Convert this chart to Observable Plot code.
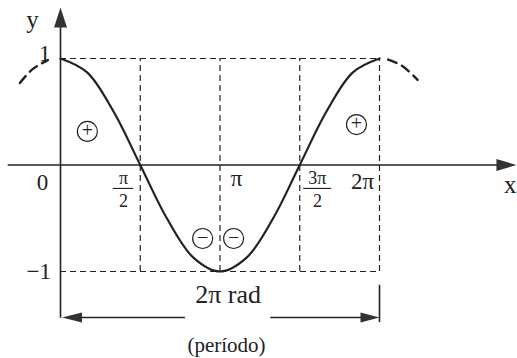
<!DOCTYPE html>
<html>
<head>
<meta charset="utf-8">
<script src="https://cdn.jsdelivr.net/npm/d3@7"></script>
<script src="https://cdn.jsdelivr.net/npm/@observablehq/plot@0.6"></script>
<style>
  html, body { margin: 0; padding: 0; background: #fff; }
  #chart svg { display: block; background: #fff; }
  #chart svg text { font-family: "Liberation Serif", "Times New Roman", serif !important; }
</style>
</head>
<body>
<div id="chart"></div>
<script>
const PI = Math.PI;
// main solid curve y = cos x, values read at steps of π/6
const curveX = [0, PI/6, PI/3, PI/2, 2*PI/3, 5*PI/6, PI, 7*PI/6, 4*PI/3, 3*PI/2, 5*PI/3, 11*PI/6, 2*PI];
const curveY = [1, 0.87, 0.5, 0, -0.5, -0.87, -1, -0.87, -0.5, 0, 0.5, 0.87, 1];
// dashed continuations
const leftExtX = [-0.8, -0.55, -0.25];
const leftExtY = [0.77, 0.90, 0.985];
const rightExtX = [2*PI + 0.17, 2*PI + 0.45, 2*PI + 0.75];
const rightExtY = [0.99, 0.93, 0.80];
// guide lines
const gridX = [PI/2, PI, 3*PI/2, 2*PI];
const gridY = [1, -1];
// tick labels
const tickLabels = ["0", "π", "2π", "1", "−1"];
const tickLabelX = [-0.355, 3.47, 5.95, -0.31, -0.43];
const tickLabelY = [-0.17, -0.13, -0.16, 1.05, -1.0];
// fractions π/2 and 3π/2
const fracNum = ["π", "3π"];
const fracX = [1.24, 5.06];
const fracBarX1 = [1.04, 4.79];
const fracBarX2 = [1.44, 5.34];
// sign markers
const signText = ["+", "+", "−", "−"];
const signX = [0.53, 5.83, 2.80, 3.41];
const signY = [0.315, 0.38, -0.69, -0.69];

const curve = curveX.map((x, i) => ({x, y: curveY[i]}));
const leftExt = leftExtX.map((x, i) => ({x, y: leftExtY[i]}));
const rightExt = rightExtX.map((x, i) => ({x, y: rightExtY[i]}));
const ticks = tickLabels.map((t, i) => ({t, x: tickLabelX[i], y: tickLabelY[i]}));
const fracs = fracNum.map((t, i) => ({t, x: fracX[i], x1: fracBarX1[i], x2: fracBarX2[i]}));
const signs = signText.map((t, i) => ({t, x: signX[i], y: signY[i]}));

function head(L, W) {
  return { draw(ctx) { ctx.moveTo(0, 0); ctx.lineTo(-L, -W/2); ctx.lineTo(-L, W/2); ctx.closePath(); } };
}
const serif = "Liberation Serif";
const ink = "#222";

const chart = Plot.plot({
  width: 517, height: 358,
  marginLeft: 60, marginRight: 138, marginTop: 58, marginBottom: 87,
  x: {domain: [0, 2*PI], axis: null},
  y: {domain: [-1, 1], axis: null},
  style: {background: "#fff", overflow: "visible", fontFamily: serif},
  marks: [
    // dashed guides
    Plot.ruleX(gridX, {y1: -1, y2: 1, stroke: ink, strokeWidth: 1.2, strokeDasharray: "6,4"}),
    Plot.ruleY(gridY, {x1: 0, x2: 2*PI, stroke: ink, strokeWidth: 1.2, strokeDasharray: "6,4"}),
    // axes
    Plot.ruleY([0], {x1: -1.03, x2: 8.7, stroke: ink, strokeWidth: 1.6}),
    Plot.ruleX([0], {y1: -1.44, y2: 1.3, stroke: ink, strokeWidth: 1.6}),
    Plot.dot([{x: 8.98, y: 0}], {x: "x", y: "y", symbol: head(20, 12), fill: "#333", stroke: "none", r: 1}),
    Plot.dot([{x: 0, y: 1.479}], {x: "x", y: "y", symbol: head(20, 13), rotate: -90, fill: "#333", stroke: "none", r: 1}),
    // period bracket
    Plot.ruleX([2*PI], {y1: -1.13, y2: -1.48, stroke: ink, strokeWidth: 1.6}),
    Plot.ruleY([-1.432], {x1: 0.2, x2: 2.46, stroke: ink, strokeWidth: 1.6}),
    Plot.ruleY([-1.432], {x1: 4.14, x2: 2*PI - 0.2, stroke: ink, strokeWidth: 1.6}),
    Plot.dot([{x: 0.03, y: -1.432}], {x: "x", y: "y", symbol: head(20, 10), rotate: 180, fill: "#333", stroke: "none", r: 1}),
    Plot.dot([{x: 2*PI, y: -1.432}], {x: "x", y: "y", symbol: head(19, 10), fill: "#333", stroke: "none", r: 1}),
    // curve
    Plot.line(curve, {x: "x", y: "y", curve: "catmull-rom", stroke: ink, strokeWidth: 2.2}),
    Plot.line(leftExt, {x: "x", y: "y", curve: "catmull-rom", stroke: ink, strokeWidth: 2.4, strokeDasharray: "9,6"}),
    Plot.line(rightExt, {x: "x", y: "y", curve: "catmull-rom", stroke: ink, strokeWidth: 2.4, strokeDasharray: "9,6"}),
    // signs
    Plot.dot(signs, {x: "x", y: "y", r: 10, stroke: ink, strokeWidth: 1.2, fill: "none"}),
    Plot.text(signs, {x: "x", y: "y", text: "t", fontFamily: serif, fontSize: 20, fill: ink, dy: -1}),
    // tick labels
    Plot.text(ticks, {x: "x", y: "y", text: "t", fontFamily: serif, fontSize: 23, fill: ink}),
    Plot.text(fracs, {x: "x", y: -0.12, text: "t", fontFamily: serif, fontSize: 18, fill: ink}),
    Plot.text(fracs, {x: "x", y: -0.34, text: () => "2", fontFamily: serif, fontSize: 18, fill: ink}),
    Plot.ruleY(fracs, {x1: "x1", x2: "x2", y: () => -0.22, stroke: ink, strokeWidth: 1.1}),
    // axis names
    Plot.text(["y"], {x: -0.55, y: 1.357, text: d => d, fontFamily: serif, fontSize: 25, fill: ink}),
    Plot.text(["x"], {x: 8.86, y: -0.19, text: d => d, fontFamily: serif, fontSize: 25, fill: ink}),
    // period labels
    Plot.text(["2π rad"], {x: 3.3, y: -1.22, text: d => d, fontFamily: serif, fontSize: 26, fill: ink}),
    Plot.text(["(período)"], {x: 3.27, y: -1.69, text: d => d, fontFamily: serif, fontSize: 21, fill: ink})
  ]
});
d3.select(chart).selectAll("[font-size]").each(function() {
  this.style.fontSize = this.getAttribute("font-size") + "px";
});
d3.select(chart).selectAll("text").style("font-family", "'Liberation Serif', 'Times New Roman', serif");
document.getElementById("chart").appendChild(chart);
</script>
</body>
</html>
